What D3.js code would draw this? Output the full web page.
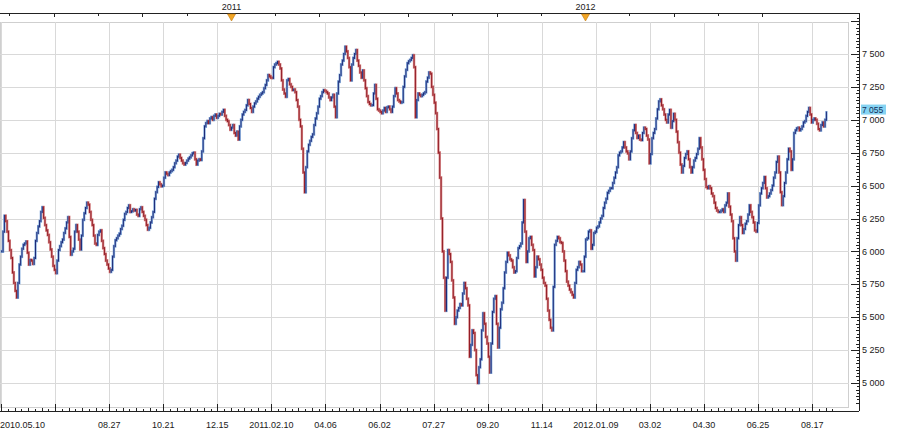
<!DOCTYPE html>
<html><head><meta charset="utf-8">
<script src="https://cdn.jsdelivr.net/npm/d3@7"></script>
<style>
body{margin:0;background:#fff}
svg{display:block}
text{font-family:"Liberation Sans",Arial,sans-serif;font-size:9px;fill:#1a1a1a}
</style>
</head><body>
<svg id="c" width="900" height="432"></svg>
<script>
// daily closes, 2010.05.10 .. 2012.09
const closes=[6000,6150,6270,6230,6150,6080,6010,5950,5840,5760,
5700,5650,5760,5900,5960,6020,6050,6060,6075,5990,
5900,5935,5930,5905,5950,6080,6140,6190,6230,6300,
6335,6255,6200,6160,6125,6070,6015,5960,5890,5860,
5835,5930,6010,6040,6070,6090,6140,6175,6220,6260,
6110,5975,6000,6020,6150,6200,6150,6090,6015,6120,
6240,6290,6330,6370,6355,6300,6240,6200,6120,6060,
6050,6125,6150,6160,6080,6025,5980,5930,5900,5870,
5845,5860,5960,6040,6085,6100,6120,6135,6170,6195,
6240,6285,6300,6330,6350,6300,6305,6320,6310,6315,
6280,6270,6320,6335,6300,6270,6240,6200,6165,6180,
6220,6260,6300,6400,6450,6490,6525,6510,6495,6500,
6560,6600,6590,6580,6600,6610,6620,6640,6670,6690,
6720,6735,6710,6690,6670,6660,6672,6690,6705,6715,
6730,6745,6750,6700,6660,6690,6700,6695,6760,6860,
6950,6975,6990,6975,7010,7020,7000,7030,7040,7015,
7030,7045,7040,7060,7075,7030,7000,6990,6960,6925,
6940,6960,6900,6880,6910,6850,6950,7000,7040,7060,
7075,7110,7150,7120,7090,7060,7100,7125,7140,7160,
7175,7190,7200,7210,7240,7265,7300,7340,7330,7320,
7318,7400,7420,7430,7440,7420,7390,7300,7230,7200,
7175,7300,7310,7270,7250,7226,7230,7210,7150,7100,
7000,6950,6780,6600,6450,6640,6760,6810,6840,6870,
6890,6960,7010,7050,7100,7160,7180,7210,7225,7220,
7210,7200,7170,7150,7170,7190,7100,7020,7200,7290,
7340,7420,7450,7500,7555,7520,7470,7400,7300,7420,
7470,7500,7530,7450,7410,7360,7320,7375,7300,7240,
7180,7135,7120,7110,7112,7200,7265,7160,7080,7070,
7060,7050,7070,7090,7060,7095,7100,7080,7060,7100,
7180,7240,7200,7150,7140,7130,7135,7250,7330,7380,
7430,7445,7455,7470,7490,7400,7020,7150,7200,7190,
7180,7190,7200,7210,7290,7320,7360,7350,7250,7190,
7130,7050,6930,6750,6560,6250,6000,5800,5550,5800,
6010,5980,5920,5780,5650,5450,5500,5550,5570,5600,
5590,5680,5760,5720,5640,5590,5200,5290,5400,5380,
5250,5060,5000,5120,5180,5400,5530,5450,5350,5300,
5200,5080,5300,5540,5640,5660,5450,5270,5420,5560,
5610,5720,5840,5920,5990,5970,5940,5930,5880,5840,
5850,5950,6025,6040,6060,6220,6390,6150,5920,6000,
6100,6110,6050,6010,5810,5880,5960,5940,5900,5860,
5800,5760,5740,5640,5550,5480,5420,5400,5730,6050,
6080,6110,6100,6070,6064,6000,5930,5850,5770,5740,
5710,5690,5670,5650,5760,5860,5880,5920,5900,5850,
5850,5960,6090,6100,6150,6160,6020,6050,6140,6150,
6180,6190,6220,6250,6270,6330,6370,6400,6445,6460,
6480,6480,6520,6560,6600,6640,6730,6750,6760,6790,
6830,6790,6760,6745,6700,6760,6860,6920,6960,6900,
6862,6880,6850,6846,6900,6940,6930,6880,6850,6670,
6740,6860,6900,6930,7010,7080,7140,7155,7110,7080,
7040,7000,6980,7040,7075,6940,6990,7045,7000,6910,
6830,6750,6660,6600,6650,6710,6740,6760,6700,6640,
6600,6640,6690,6710,6740,6780,6860,6790,6700,6620,
6550,6490,6480,6495,6480,6440,6420,6370,6330,6310,
6300,6300,6310,6320,6300,6350,6370,6440,6340,6280,
6230,6100,6000,5930,6100,6200,6260,6200,6140,6170,
6210,6230,6280,6350,6300,6260,6220,6160,6150,6216,
6350,6440,6480,6520,6565,6480,6410,6420,6440,6466,
6500,6560,6600,6680,6720,6600,6450,6352,6420,6520,
6600,6700,6780,6760,6620,6700,6900,6920,6935,6940,
6920,6930,6950,6980,6990,7030,7060,7090,7040,6980,
7000,7010,7000,6970,6930,6920,6960,6980,6950,7000,
7055];
const lastPrice=7055;
const yMajor=[5000,5250,5500,5750,6000,6250,6500,6750,7000,7250,7500];
const xGridIdx=[0,40,80,120,160,200,240,280,320,360,400,440,480,520,560,600];
const xGridLabels=["2010.05.10","","08.27","10.21","12.15","2011.02.10","04.06","06.02","07.27","09.20","11.14","2012.01.09","03.02","04.30","06.25","08.17"];
const yearLabels=["2011","2012"];
const yearIdx=[170,432];

const svg=d3.select("#c");
const plot={l:0,t:22,r:849,b:407};
const axisRightX=859, axisTopY=13, axisBottomY=411;

const x=d3.scaleLinear().domain([0,closes.length]).range([1,1+closes.length*1.352]);
const y=d3.scaleLinear().domain([5000,7500]).range([383,54]);

const fmt=d3.formatLocale({decimal:".",thousands:" ",grouping:[3],currency:["",""]}).format(",");

// plot background & grid
svg.append("rect").attr("x",plot.l+0.5).attr("y",plot.t+0.5).attr("width",plot.r-plot.l-1).attr("height",plot.b-plot.t).attr("fill","#fff").attr("stroke","#cfcfcf");
const grid=svg.append("g").attr("stroke","#d9d9d9").attr("stroke-width",1);
grid.selectAll("line.h").data(yMajor).join("line").attr("class","h")
  .attr("x1",plot.l).attr("x2",plot.r).attr("y1",d=>Math.round(y(d))+0.5).attr("y2",d=>Math.round(y(d))+0.5);
grid.selectAll("line.v").data(xGridIdx).join("line").attr("class","v")
  .attr("x1",d=>Math.round(x(d))+0.5).attr("x2",d=>Math.round(x(d))+0.5).attr("y1",plot.t).attr("y2",plot.b);

// bars (open = previous close)
svg.append("clipPath").attr("id","clip").append("rect").attr("x",plot.l).attr("y",plot.t).attr("width",plot.r-plot.l).attr("height",plot.b-plot.t);
const bars=closes.map((c,i)=>{const o=i?closes[i-1]:c;return {i,o,c,up:c>=o};});
const g=svg.append("g").attr("clip-path","url(#clip)");
g.selectAll("line.u").data(bars).join("line").attr("class","u")
  .attr("x1",d=>x(d.i)+0.7).attr("x2",d=>x(d.i)+0.7)
  .attr("y1",d=>Math.min(y(d.o),y(d.c))-1.5).attr("y2",d=>Math.max(y(d.o),y(d.c))+1.5)
  .attr("stroke",d=>d.up?"#86aede":"#d98a8a").attr("stroke-width",2.4);
g.selectAll("line.d").data(bars).join("line").attr("class","d")
  .attr("x1",d=>x(d.i)+0.7).attr("x2",d=>x(d.i)+0.7)
  .attr("y1",d=>Math.min(y(d.o),y(d.c))-1).attr("y2",d=>Math.max(y(d.o),y(d.c))+1)
  .attr("stroke",d=>d.up?"#1d2a78":"#931c26").attr("stroke-width",1);

// right axis
const ra=svg.append("g").attr("stroke","#222");
ra.append("line").attr("x1",axisRightX+0.5).attr("x2",axisRightX+0.5).attr("y1",axisTopY).attr("y2",axisBottomY);
const minorY=d3.range(4850,7776,25);
ra.selectAll("line.mn").data(minorY).join("line").attr("class","mn")
  .attr("x1",d=>axisRightX-(d%250===0?8:(d%50===0?3:2))).attr("x2",axisRightX)
  .attr("y1",d=>Math.round(y(d))+0.5).attr("y2",d=>Math.round(y(d))+0.5)
  .filter(d=>y(d)<axisTopY+2||y(d)>axisBottomY-1).remove();
svg.selectAll("text.yl").data(yMajor).join("text").attr("class","yl")
  .attr("x",axisRightX+3).attr("y",d=>y(d)).attr("dy","0.35em").text(d=>fmt(d));
// last price tag (nudged up slightly so it does not cover the 7 000 label)
const tagY=y(lastPrice)-3;
svg.append("rect").attr("x",axisRightX+2).attr("y",tagY-5).attr("width",25).attr("height",10).attr("fill","#86d3f2");
svg.append("text").attr("x",axisRightX+3).attr("y",tagY).attr("dy","0.35em").style("fill","#12305a").style("font-size","8.5px").text(fmt(lastPrice));

// bottom axis
const ba=svg.append("g").attr("stroke","#222");
ba.append("line").attr("x1",0).attr("x2",axisRightX).attr("y1",axisBottomY+0.5).attr("y2",axisBottomY+0.5);
const minorX=d3.range(0,closes.length+8,5);
ba.selectAll("line.t").data(minorX).join("line").attr("class","t")
  .attr("x1",d=>Math.round(x(d))+0.5).attr("x2",d=>Math.round(x(d))+0.5)
  .attr("y1",d=>axisBottomY-(d%40===0?7:(d%10===0?3:2))).attr("y2",axisBottomY)
  .filter(d=>x(d)>axisRightX-1).remove();
svg.selectAll("text.xl").data(xGridIdx).join("text").attr("class","xl")
  .attr("x",(d,i)=>i===0?0:x(d)).attr("y",428)
  .attr("text-anchor",(d,i)=>i===0?"start":"middle").text((d,i)=>xGridLabels[i]);

// top axis
const ta=svg.append("g").attr("stroke","#222");
ta.append("line").attr("x1",0).attr("x2",axisRightX).attr("y1",axisTopY+0.5).attr("y2",axisTopY+0.5);
const step=(yearIdx[1]-yearIdx[0])/8;
const topTicks=d3.range(-5,13).map(k=>({idx:yearIdx[0]+k*step,major:k%2===0})).filter(t=>t.idx>=0&&x(t.idx)<axisRightX-3);
ta.selectAll("line.tt").data(topTicks).join("line").attr("class","tt")
  .attr("x1",d=>Math.round(x(d.idx))+0.5).attr("x2",d=>Math.round(x(d.idx))+0.5)
  .attr("y1",axisTopY).attr("y2",d=>axisTopY+(d.major?4:3));
yearIdx.forEach((idx,i)=>{
  const cx=Math.round(x(idx))+0.5;
  svg.append("path").attr("d",`M${cx-4},${axisTopY+1}L${cx+4},${axisTopY+1}L${cx},${axisTopY+8}Z`)
    .attr("fill","#f2a626").attr("stroke","#c27a10").attr("stroke-width",0.6);
  svg.append("text").attr("x",cx).attr("y",axisTopY-3).attr("text-anchor","middle").text(yearLabels[i]);
});
</script>
</body></html>
